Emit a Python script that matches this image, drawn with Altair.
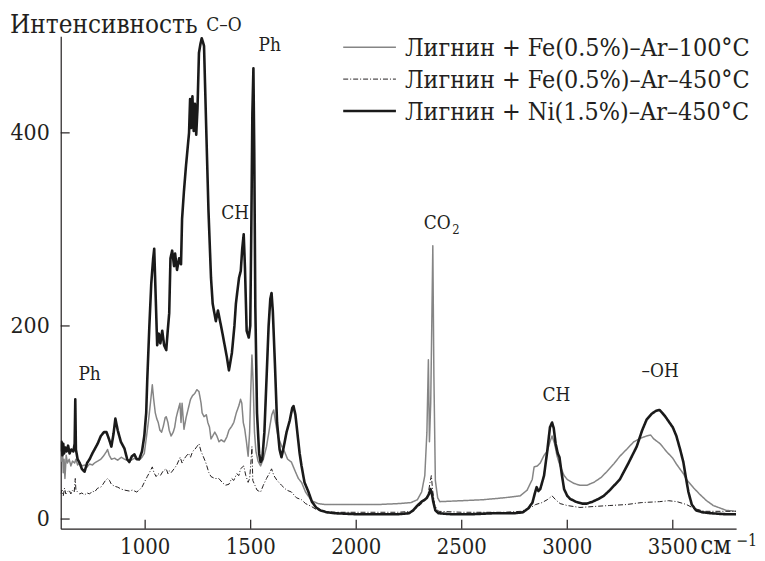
import altair as alt
import pandas as pd

FONT = "DejaVu Serif Condensed, DejaVu Serif"
TXT = "#231f20"

series = ["Лигнин + Fe(0.5%)–Ar–100°C", "Лигнин + Fe(0.5%)–Ar–450°C", "Лигнин + Ni(1.5%)–Ar–450°C"]
colors = ["#858585", "#231f20", "#1a1a1a"]
dashes = [[1, 0], [5, 2, 1, 2], [1, 0]]
widths = [1.5, 1.0, 2.6]

x_ticks = [1000, 1500, 2000, 2500, 3000, 3500]
y_ticks = [0, 200, 400]
y_title = "Интенсивность"

# Лигнин + Fe(0.5%)–Ar–100°C
fe100_wn = [600, 604, 608, 612, 616, 620, 626, 632, 640, 648, 656, 666, 672, 680, 690, 700, 713, 725, 737, 750,
            760, 775, 790, 805, 817, 822, 830, 840, 855, 870, 887, 902, 925, 949, 972, 985, 996, 1005, 1015, 1025,
            1034, 1040, 1048, 1055, 1062, 1070, 1078, 1086, 1095, 1100, 1108, 1114, 1123, 1133, 1140, 1147, 1155,
            1165, 1170, 1175, 1180, 1184, 1194, 1205, 1215, 1225, 1235, 1245, 1255, 1265, 1270, 1279, 1290, 1297,
            1305, 1312, 1320, 1330, 1340, 1350, 1360, 1375, 1387, 1397, 1410, 1420, 1432, 1445, 1452, 1458, 1465,
            1472, 1480, 1488, 1495, 1500, 1506, 1512, 1518, 1525, 1535, 1547, 1560, 1575, 1590, 1600, 1609, 1618,
            1630, 1646, 1660, 1675, 1693, 1710, 1726, 1741, 1760, 1788, 1820, 1854, 1900, 2000, 2100, 2200, 2259,
            2290, 2310, 2325, 2335, 2342, 2347, 2353, 2358, 2363, 2368, 2375, 2386, 2396, 2500, 2600, 2700, 2777,
            2810, 2834, 2843, 2858, 2872, 2890, 2905, 2918, 2928, 2940, 2952, 2966, 2985, 3000, 3030, 3060, 3093,
            3126, 3160, 3187, 3220, 3249, 3285, 3315, 3350, 3376, 3395, 3410, 3440, 3470, 3500, 3517, 3550, 3565,
            3600, 3626, 3660, 3692, 3753, 3800]
fe100_int = [70, 60, 78, 48, 62, 42, 66, 58, 62, 55, 60, 58, 62, 56, 58, 55, 56, 54, 57, 56,
             58, 60, 62, 66, 70, 72, 66, 62, 63, 61, 64, 62, 60, 63, 61, 64, 68, 83, 100, 120,
             139, 125, 110, 104, 100, 92, 90, 96, 105, 106, 100, 92, 86, 90, 95, 105, 112,
             120, 100, 120, 105, 93, 105, 115, 124, 128, 130, 134, 132, 120, 110, 106, 108, 100,
             95, 83, 86, 90, 86, 80, 82, 80, 85, 92, 96, 100, 110, 118, 124, 120, 100,
             93, 80, 65, 90, 130, 170, 140, 90, 70, 60, 55, 62, 75, 95, 108, 113, 100,
             85, 76, 70, 62, 59, 50, 42, 38, 28, 19, 16, 15, 15, 15, 15, 16, 17,
             20, 28, 45, 90, 165, 80, 120, 200, 283, 150, 40, 22, 18, 19, 20, 22, 24,
             30, 41, 54, 55, 58, 66, 70, 80, 86, 78, 65, 55, 45, 41, 37, 35, 35,
             38, 43, 49, 57, 65, 73, 80, 84, 86, 87, 83, 78, 70, 63, 57, 47, 41,
             32, 26, 19, 14, 9, 8]

# Лигнин + Fe(0.5%)–Ar–450°C
fe450_wn = [600, 606, 612, 618, 624, 632, 640, 648, 656, 664, 669, 672, 680, 690, 700, 713, 725, 737, 750, 760,
            775, 790, 800, 812, 822, 831, 840, 855, 870, 887, 902, 925, 940, 960, 972, 985, 996, 1010, 1020, 1034,
            1042, 1052, 1062, 1072, 1086, 1100, 1108, 1114, 1123, 1137, 1150, 1166, 1175, 1184, 1194, 1205, 1215,
            1225, 1235, 1245, 1255, 1265, 1275, 1288, 1302, 1312, 1330, 1349, 1365, 1380, 1397, 1410, 1420, 1434,
            1444, 1452, 1467, 1477, 1488, 1495, 1500, 1506, 1510, 1520, 1530, 1538, 1547, 1560, 1575, 1590, 1599,
            1610, 1625, 1646, 1670, 1693, 1717, 1741, 1760, 1788, 1810, 1850, 1900, 2000, 2100, 2200, 2259, 2290,
            2320, 2340, 2350, 2356, 2362, 2372, 2390, 2500, 2600, 2700, 2780, 2820, 2850, 2880, 2905, 2928, 2945,
            2966, 3000, 3060, 3126, 3200, 3280, 3350, 3437, 3480, 3520, 3565, 3600, 3650, 3700, 3800]
fe450_int = [26, 30, 24, 32, 26, 28, 30, 26, 30, 28, 42, 30, 28, 26, 27, 25, 27, 26, 29, 28,
             32, 33, 36, 40, 42, 40, 36, 34, 33, 31, 30, 29, 30, 28, 30, 33, 38, 44, 48, 54,
             48, 44, 47, 45, 50, 52, 47, 50, 48, 52, 56, 64, 58, 62, 65, 68, 64,
             70, 72, 75, 78, 70, 65, 58, 48, 44, 42, 42, 38, 35, 36, 42, 40, 47,
             45, 52, 55, 45, 38, 42, 55, 75, 40, 35, 30, 29, 28, 35, 42, 48, 52,
             45, 40, 35, 30, 28, 22, 20, 16, 13, 10, 8, 7, 7, 7, 7, 8, 12,
             18, 25, 38, 45, 30, 14, 8, 7, 7, 7, 8, 11, 15, 17, 20, 24, 20,
             16, 14, 12, 13, 14, 15, 17, 18, 19, 18, 15, 11, 8, 8, 8]

# Лигнин + Ni(1.5%)–Ar–450°C
ni450_wn = [600, 604, 608, 612, 616, 622, 628, 635, 642, 650, 660, 666, 669, 672, 680, 690, 700, 713, 725, 737,
            750, 760, 775, 790, 805, 817, 830, 840, 850, 859, 870, 885, 902, 915, 925, 937, 949, 960, 972, 985,
            996, 1005, 1010, 1020, 1029, 1038, 1043, 1050, 1057, 1065, 1072, 1081, 1090, 1100, 1107, 1114, 1120,
            1128, 1137, 1142, 1151, 1161, 1166, 1170, 1175, 1184, 1194, 1208, 1213, 1218, 1224, 1230, 1236, 1242,
            1248, 1255, 1262, 1268, 1274, 1279, 1290, 1300, 1312, 1320, 1335, 1345, 1364, 1387, 1397, 1411, 1423,
            1430, 1437, 1445, 1453, 1460, 1467, 1473, 1481, 1491, 1498, 1503, 1508, 1513, 1517, 1522, 1530, 1540,
            1547, 1555, 1565, 1576, 1585, 1593, 1599, 1605, 1615, 1625, 1637, 1646, 1656, 1670, 1685, 1697, 1703,
            1712, 1722, 1732, 1741, 1755, 1774, 1790, 1810, 1830, 1860, 1900, 2000, 2100, 2200, 2250, 2270, 2290,
            2310, 2325, 2335, 2345, 2352, 2358, 2365, 2375, 2390, 2450, 2550, 2650, 2750, 2790, 2815, 2835, 2848,
            2855, 2863, 2872, 2890, 2905, 2918, 2928, 2936, 2945, 2955, 2963, 2975, 2985, 3000, 3013, 3040, 3070,
            3093, 3120, 3150, 3173, 3202, 3249, 3290, 3329, 3355, 3376, 3400, 3420, 3437, 3450, 3465, 3484, 3500,
            3517, 3535, 3550, 3562, 3574, 3590, 3610, 3640, 3680, 3750, 3800]
ni450_int = [70, 80, 66, 78, 68, 74, 70, 76, 68, 72, 70, 78, 124, 72, 62, 58, 52, 49, 58, 62,
             68, 72, 78, 86, 90, 90, 82, 75, 88, 104, 92, 80, 73, 62, 59, 65, 67, 62, 62, 70,
             86, 110, 144, 200, 244, 270, 280, 230, 180, 192, 182, 195, 180, 175, 195, 213, 270,
             278, 262, 275, 258, 270, 265, 264, 311, 340, 367, 400, 435, 405, 438, 402, 430, 398,
             425, 483, 492, 498, 494, 490, 400, 320, 250, 223, 205, 216, 195, 168, 154, 172, 200,
             223, 236, 250, 257, 280, 295, 260, 195, 188, 200, 300, 420, 467, 380, 220, 110, 68,
             59, 62, 90, 150, 200, 228, 234, 215, 160, 100, 72, 64, 74, 90, 102, 115, 117,
             108, 88, 68, 55, 38, 28, 18, 12, 9, 7, 6, 5, 5, 5, 6, 9, 14,
             18, 20, 22, 26, 31, 27, 18, 9, 6, 5, 5, 6, 6, 7, 11, 17, 28,
             33, 29, 31, 45, 70, 95, 100, 94, 78, 68, 64, 45, 31, 24, 21, 18, 16,
             16, 18, 21, 24, 30, 41, 58, 75, 92, 103, 109, 112, 113, 110, 106, 100, 95,
             86, 72, 59, 43, 28, 15, 9, 7, 6, 5, 5]

# peak annotations (label, wavenumber, intensity at baseline)
ann_labels = ["C–O", "Ph", "CH", "Ph", "CH", "–OH", "CO"]
ann_wn = [1373, 1590, 1427, 737, 2949, 3440, 2384]
ann_int = [506, 485, 311, 144, 122, 147, 300]

rows = []
for name, wn, it in zip(series, [fe100_wn, fe450_wn, ni450_wn], [fe100_int, fe450_int, ni450_int]):
    assert len(wn) == len(it), name
    for w, i in zip(wn, it):
        rows.append({"series": name, "wn": w, "I": i})
df = pd.DataFrame(rows)

W, H = 679, 495
xs = alt.Scale(domain=[600, 3800], nice=False, zero=False)
ys = alt.Scale(domain=[-10, 500], nice=False, zero=False)

x_axis = alt.Axis(values=x_ticks, ticks=False, grid=False, title=None, labels=False,
                  domainColor=TXT, domainWidth=1.2)
y_axis = alt.Axis(values=y_ticks, ticks=False, grid=False, title=None, labels=False,
                  domainColor=TXT, domainWidth=1.2)

lines = alt.Chart(df).mark_line(clip=True, strokeJoin="round").encode(
    x=alt.X("wn:Q", scale=xs, axis=x_axis),
    y=alt.Y("I:Q", scale=ys, axis=y_axis),
    color=alt.Color("series:N", scale=alt.Scale(type="ordinal", domain=series, range=colors), legend=None),
    strokeDash=alt.StrokeDash("series:N", scale=alt.Scale(type="ordinal", domain=series, range=dashes),
                              legend=None),
    strokeWidth=alt.StrokeWidth("series:N", scale=alt.Scale(type="ordinal", domain=series, range=widths),
                                legend=None),
)

# inward tick marks
yt = alt.Chart(pd.DataFrame({"I": y_ticks})).mark_rule(color=TXT, strokeWidth=1.2).encode(
    y=alt.Y("I:Q", scale=ys), x=alt.value(0), x2=alt.value(9))
xt = alt.Chart(pd.DataFrame({"wn": x_ticks})).mark_rule(color=TXT, strokeWidth=1.2).encode(
    x=alt.X("wn:Q", scale=xs), y=alt.value(H), y2=alt.value(H - 9))

# tick labels and axis title as text
xl = alt.Chart(pd.DataFrame({"wn": x_ticks})).mark_text(
    font=FONT, fontSize=22, baseline="alphabetic", align="center", color=TXT).encode(
    x=alt.X("wn:Q", scale=xs), y=alt.value(H + 25), text=alt.Text("wn:Q", format="d"))
yl = alt.Chart(pd.DataFrame({"I": y_ticks})).mark_text(
    font=FONT, fontSize=23, baseline="middle", align="right", color=TXT).encode(
    y=alt.Y("I:Q", scale=ys), x=alt.value(-11), text=alt.Text("I:Q", format="d"))
ytitle = alt.Chart(pd.DataFrame({"t": [y_title]})).mark_text(
    font=FONT, fontSize=26, baseline="alphabetic", align="left", color=TXT).encode(
    x=alt.value(-51), y=alt.value(-3), text="t:N")

ann = alt.Chart(pd.DataFrame({"label": ann_labels, "wn": ann_wn, "I": ann_int})).mark_text(
    font=FONT, fontSize=19, baseline="alphabetic", align="center", color=TXT).encode(
    x=alt.X("wn:Q", scale=xs), y=alt.Y("I:Q", scale=ys), text="label:N")
sub2 = alt.Chart(pd.DataFrame({"t": ["2"], "wn": [2455], "I": [295]})).mark_text(
    font=FONT, fontSize=13, baseline="alphabetic", align="left", color=TXT).encode(
    x=alt.X("wn:Q", scale=xs), y=alt.Y("I:Q", scale=ys), text="t:N")

unit = alt.Chart(pd.DataFrame({"t": ["см"]})).mark_text(
    font=FONT, fontSize=26, baseline="alphabetic", align="left", color=TXT).encode(
    x=alt.value(643), y=alt.value(H + 25), text="t:N")
unit_sup = alt.Chart(pd.DataFrame({"t": ["−1"]})).mark_text(
    font=FONT, fontSize=16, baseline="alphabetic", align="left", color=TXT).encode(
    x=alt.value(679), y=alt.value(H + 17), text="t:N")

# legend drawn from the series list
legend_layers = []
for i, name in enumerate(series):
    legend_layers.append(
        alt.Chart(pd.DataFrame({"series": [name]})).mark_rule(
            color=colors[i], strokeDash=dashes[i], strokeWidth=widths[i]).encode(
            x=alt.value(284), x2=alt.value(337), y=alt.value(11 + 32 * i)))
    legend_layers.append(
        alt.Chart(pd.DataFrame({"series": [name]})).mark_text(
            font=FONT, fontSize=25, baseline="middle", align="left", color=TXT).encode(
            x=alt.value(346), y=alt.value(12 + 32 * i), text="series:N"))

chart = alt.layer(lines, yt, xt, xl, yl, ytitle, ann, sub2, unit, unit_sup, *legend_layers).properties(
    width=W, height=H,
    padding={"left": 53, "top": 27, "right": 21, "bottom": 30},
    autosize=alt.AutoSizeParams(type="none"),
    background="white",
).configure_view(stroke=None)

chart.save("out.html", embed_options={"renderer": "svg", "actions": False})
